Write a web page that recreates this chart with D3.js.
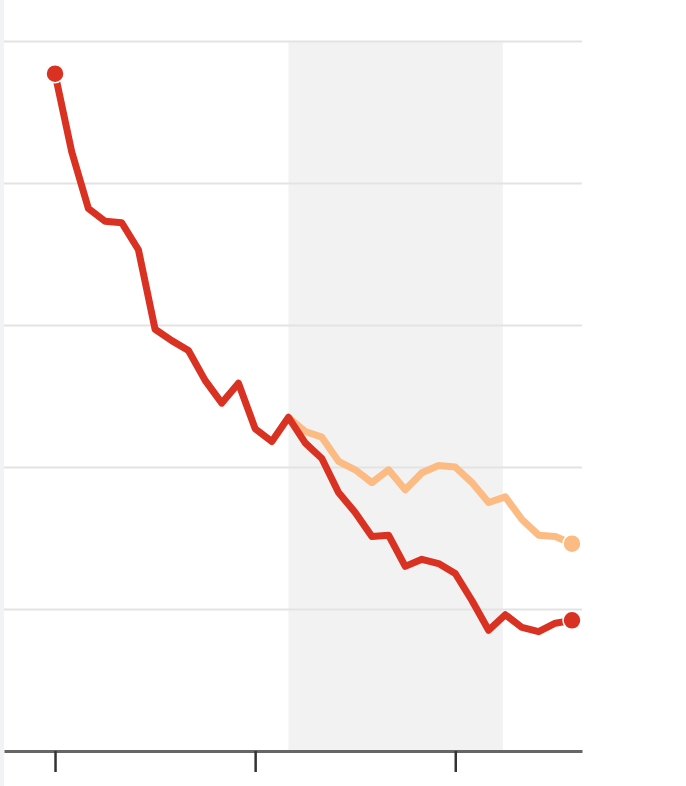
<!DOCTYPE html>
<html>
<head>
<meta charset="utf-8">
<script src="https://cdn.jsdelivr.net/npm/d3@7"></script>
<style>
  body { margin: 0; background: #fff; }
  #chart { border-left: 4px solid #f2f3f5; }
</style>
</head>
<body>
<div id="chart"></div>
<script>
// index of each period along the x axis
var periods = d3.range(32);

// main series (red)
var actualValues = [47.7, 42.2, 38.2, 37.3, 37.2, 35.3, 29.7, 28.9, 28.2, 26.1, 24.5, 25.9,
                    22.7, 21.8, 23.5, 21.7, 20.6, 18.2, 16.8, 15.1, 15.2, 13.0, 13.5, 13.2,
                    12.5, 10.6, 8.5, 9.6, 8.7, 8.4, 9.0, 9.2];

// projected series (orange), starts at period 14
var projectedStart = 14;
var projectedValues = [23.5, 22.5, 22.1, 20.4, 19.8, 18.9, 19.8, 18.4, 19.6, 20.1,
                       20.0, 18.9, 17.5, 17.9, 16.3, 15.2, 15.1, 14.6];

var shadeRange = [14, 26.85];
var xTicks = [0, 12, 24];
var yTicks = [10, 20, 30, 40, 50];

var margin = {top: 41, right: 104, bottom: 35, left: 0},
    width = 682 - margin.left - margin.right,
    height = 786 - margin.top - margin.bottom;

var svg = d3.select("#chart").append("svg")
    .attr("width", 682)
    .attr("height", 786)
  .append("g")
    .attr("transform", "translate(" + margin.left + "," + margin.top + ")");

var x = d3.scaleLinear()
    .domain([-3.06, 31.6])
    .range([0, width]);

var y = d3.scaleLinear()
    .domain([0, 50])
    .range([height, 0]);

// shaded period
svg.append("rect")
    .attr("x", x(shadeRange[0]))
    .attr("width", x(shadeRange[1]) - x(shadeRange[0]))
    .attr("y", 0)
    .attr("height", height)
    .attr("fill", "#f2f2f2");

// horizontal grid
svg.append("g")
    .call(d3.axisLeft(y).tickValues(yTicks).tickSize(-width).tickFormat(""))
    .call(function(g) {
        g.select(".domain").remove();
        g.selectAll("line").attr("stroke", "#e3e3e3").attr("stroke-width", 2);
    });

// x axis
svg.append("g")
    .attr("transform", "translate(0," + height + ")")
    .call(d3.axisBottom(x).tickValues(xTicks).tickSize(21).tickFormat("").tickSizeOuter(0))
    .call(function(g) {
        g.select(".domain").attr("stroke", "#666").attr("stroke-width", 3);
        g.selectAll(".tick line").attr("stroke", "#333").attr("stroke-width", 2.5);
    });

var line = d3.line()
    .x(function(d) { return x(d.i); })
    .y(function(d) { return y(d.v); });

var actual = periods.map(function(i) { return {i: i, v: actualValues[i]}; });
var projected = projectedValues.map(function(v, k) { return {i: projectedStart + k, v: v}; });

svg.append("path")
    .datum(projected)
    .attr("fill", "none")
    .attr("stroke", "#fdbb84")
    .attr("stroke-width", 7)
    .attr("stroke-linejoin", "round")
    .attr("d", line);

svg.append("path")
    .datum(actual)
    .attr("fill", "none")
    .attr("stroke", "#d93223")
    .attr("stroke-width", 7)
    .attr("stroke-linejoin", "round")
    .attr("d", line);

var dots = [
    {d: projected[projected.length - 1], c: "#fdbb84"},
    {d: actual[0], c: "#d93223"},
    {d: actual[actual.length - 1], c: "#d93223"}
];

svg.selectAll(".dot")
    .data(dots)
  .enter().append("circle")
    .attr("class", "dot")
    .attr("cx", function(d) { return x(d.d.i); })
    .attr("cy", function(d) { return y(d.d.v); })
    .attr("r", 9)
    .attr("fill", function(d) { return d.c; })
    .attr("stroke", "#fff")
    .attr("stroke-width", 1.5);
</script>
</body>
</html>
